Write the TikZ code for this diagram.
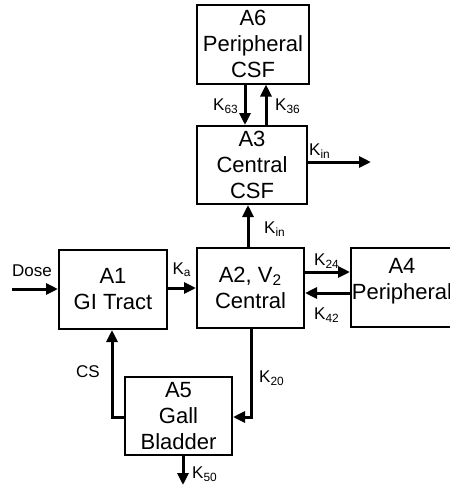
\documentclass[tikz,border=0pt]{standalone}
\usepackage{fontspec}
\setmainfont{Liberation Sans}
\usetikzlibrary{arrows.meta}
\begin{document}
\begin{tikzpicture}[x=0.5pt,y=-0.5pt,
 box/.style={draw,line width=1pt,inner sep=0pt,align=center,font=\fontsize{11}{13}\selectfont},
 boxtext/.style={inner sep=0pt,align=center,font=\fontsize{11}{13}\selectfont},
 flow/.style={line width=1.5pt,-{Triangle[length=6pt,width=5.5pt]}},
 lab/.style={font=\fontsize{8.5}{10}\selectfont,inner sep=0pt}]
\useasboundingbox (0,0) rectangle (450,494);
\node[box,minimum width=56pt,minimum height=39.5pt] (a6) at (253,44) {A6\\Peripheral\\CSF};
\node[box,minimum width=55pt,minimum height=39pt] (a3) at (252,165) {A3\\Central\\CSF};
\node[box,minimum width=53.5pt,minimum height=40pt] (a2) at (250.5,288) {A2, V\textsubscript{2}\\Central};
\node[box,minimum width=54pt,minimum height=39.5pt] (a1) at (113,289.5) {A1\\GI Tract};
\node[box,minimum width=60pt,minimum height=39.5pt] (a4) at (411,287.5) {};
\node[boxtext] (a4t) at (402,281) {A4\\Peripheral};
\node[box,minimum width=53.5pt,minimum height=39pt] (a5) at (178.5,416) {A5\\Gall\\Bladder};
\coordinate (x245) at (245,0);
\coordinate (x266) at (266,0);
\coordinate (x248) at (248,0);
\coordinate (x251) at (251,0);
\coordinate (x112) at (112,0);
\coordinate (x183) at (183,0);
\coordinate (y162) at (0,162);
\coordinate (y272) at (0,272);
\coordinate (y293) at (0,293);
\coordinate (y417) at (0,417);
\coordinate (dose) at (12,289);
\coordinate (out3) at (371,162);
\coordinate (out5) at (183,485);
\draw[flow] (a6.south -| x245) -- (a3.north -| x245);
\draw[flow] (a3.north -| x266) -- (a6.south -| x266);
\draw[flow] (a3.east |- y162) -- (out3);
\draw[flow] (a2.north -| x248) -- (a3.south -| x248);
\draw[flow] (dose) -- (dose -| a1.west);
\draw[flow] (a1.east |- a2.center) -- (a2.west);
\draw[flow] (a2.east |- y272) -- (a4.west |- y272);
\draw[flow] (a4.west |- y293) -- (a2.east |- y293);
\draw[flow] (a2.south -| x251) -- (x251 |- y417) -- (a5.east |- y417);
\draw[flow] (a5.west |- y417) -- (x112 |- y417) -- (a1.south -| x112);
\draw[flow] (a5.south -| x183) -- (out5);
\node[lab] (l63) at (226,106) {K\textsubscript{63}};
\node[lab] (l36) at (288,106) {K\textsubscript{36}};
\node[lab] (lin3) at (320,151) {K\textsubscript{in}};
\node[lab] (lin2) at (275,229) {K\textsubscript{in}};
\node[lab] (ldose) at (32,271) {Dose};
\node[lab] (lka) at (182,270) {K\textsubscript{a}};
\node[lab] (l24) at (327,261) {K\textsubscript{24}};
\node[lab] (l42) at (327,315) {K\textsubscript{42}};
\node[lab] (lcs) at (88,372) {CS};
\node[lab] (l20) at (272,378) {K\textsubscript{20}};
\node[lab] (l50) at (205,474) {K\textsubscript{50}};
\end{tikzpicture}
\end{document}
